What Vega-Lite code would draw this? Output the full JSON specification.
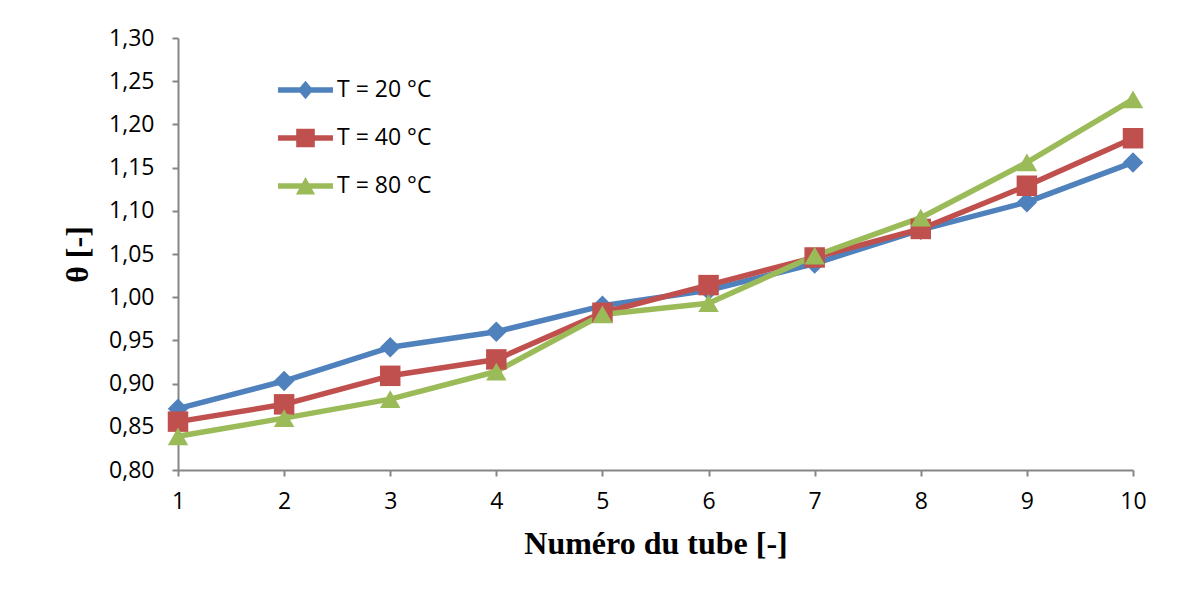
{
  "$schema": "https://vega.github.io/schema/vega-lite/v6.json",
  "width": 955,
  "height": 432,
  "autosize": "none",
  "padding": {"left": 178, "top": 38, "right": 47, "bottom": 141},
  "background": "white",
  "config": {"view": {"stroke": null}, "font": "Open Sans"},
  "data": {
    "values": [
      {"tube": 1, "serie": "T = 20 °C", "theta": 0.871},
      {"tube": 2, "serie": "T = 20 °C", "theta": 0.903},
      {"tube": 3, "serie": "T = 20 °C", "theta": 0.942},
      {"tube": 4, "serie": "T = 20 °C", "theta": 0.960},
      {"tube": 5, "serie": "T = 20 °C", "theta": 0.990},
      {"tube": 6, "serie": "T = 20 °C", "theta": 1.008},
      {"tube": 7, "serie": "T = 20 °C", "theta": 1.039},
      {"tube": 8, "serie": "T = 20 °C", "theta": 1.078},
      {"tube": 9, "serie": "T = 20 °C", "theta": 1.110},
      {"tube": 10, "serie": "T = 20 °C", "theta": 1.156},
      {"tube": 1, "serie": "T = 40 °C", "theta": 0.856},
      {"tube": 2, "serie": "T = 40 °C", "theta": 0.876},
      {"tube": 3, "serie": "T = 40 °C", "theta": 0.909},
      {"tube": 4, "serie": "T = 40 °C", "theta": 0.928},
      {"tube": 5, "serie": "T = 40 °C", "theta": 0.982},
      {"tube": 6, "serie": "T = 40 °C", "theta": 1.014},
      {"tube": 7, "serie": "T = 40 °C", "theta": 1.046},
      {"tube": 8, "serie": "T = 40 °C", "theta": 1.079},
      {"tube": 9, "serie": "T = 40 °C", "theta": 1.129},
      {"tube": 10, "serie": "T = 40 °C", "theta": 1.184},
      {"tube": 1, "serie": "T = 80 °C", "theta": 0.839},
      {"tube": 2, "serie": "T = 80 °C", "theta": 0.860},
      {"tube": 3, "serie": "T = 80 °C", "theta": 0.882},
      {"tube": 4, "serie": "T = 80 °C", "theta": 0.914},
      {"tube": 5, "serie": "T = 80 °C", "theta": 0.980},
      {"tube": 6, "serie": "T = 80 °C", "theta": 0.993},
      {"tube": 7, "serie": "T = 80 °C", "theta": 1.048},
      {"tube": 8, "serie": "T = 80 °C", "theta": 1.092},
      {"tube": 9, "serie": "T = 80 °C", "theta": 1.156},
      {"tube": 10, "serie": "T = 80 °C", "theta": 1.229}
    ]
  },
  "encoding": {
    "x": {
      "field": "tube",
      "type": "quantitative",
      "scale": {"domain": [1, 10], "nice": false, "zero": false},
      "axis": {
        "values": [1, 2, 3, 4, 5, 6, 7, 8, 9, 10],
        "format": "d",
        "title": "Numéro du tube [-]",
        "titleFont": "Liberation Serif",
        "titleFontSize": 32,
        "titleFontWeight": "bold",
        "titleColor": "#000000",
        "titlePadding": 15,
        "labelFont": "Open Sans",
        "labelFontSize": 23,
        "labelColor": "#000000",
        "labelPadding": 14,
        "labelFlush": false,
        "domainColor": "#868686",
        "domainWidth": 2,
        "tickColor": "#868686",
        "tickWidth": 2,
        "tickSize": 6,
        "grid": false
      }
    },
    "y": {
      "field": "theta",
      "type": "quantitative",
      "scale": {"domain": [0.8, 1.3], "nice": false, "zero": false},
      "axis": {
        "values": [0.8, 0.85, 0.9, 0.95, 1.0, 1.05, 1.1, 1.15, 1.2, 1.25, 1.3],
        "labelExpr": "replace(format(datum.value, '.2f'), '.', ',')",
        "title": "θ [-]",
        "titleFont": "Liberation Serif",
        "titleFontSize": 32,
        "titleFontWeight": "bold",
        "titleColor": "#000000",
        "titlePadding": 14,
        "labelFont": "Open Sans",
        "labelFontSize": 23,
        "labelColor": "#000000",
        "labelPadding": 18,
        "labelFlush": false,
        "domainColor": "#868686",
        "domainWidth": 2,
        "tickColor": "#868686",
        "tickWidth": 2,
        "tickSize": 6,
        "grid": false
      }
    },
    "color": {
      "field": "serie",
      "type": "nominal",
      "scale": {
        "domain": ["T = 20 °C", "T = 40 °C", "T = 80 °C"],
        "range": ["#4F81BD", "#C0504D", "#9BBB59"]
      },
      "legend": {
        "title": null,
        "orient": "none",
        "legendX": 112.5,
        "legendY": 37,
        "labelFont": "Open Sans",
        "labelFontSize": 23,
        "labelColor": "#000000",
        "labelOffset": 16.5,
        "symbolSize": 900,
        "symbolStrokeWidth": 0,
        "symbolOpacity": 1,
        "rowPadding": 21,
        "encode": {
          "symbols": {
            "update": {
              "shape": {"signal": "datum.value === 'T = 20 °C' ? 'M-1.83,-0.18H1.83V0.18H-1.83Z M0,-0.62L0.52,0L0,0.62L-0.52,0Z' : datum.value === 'T = 40 °C' ? 'M-1.83,-0.18H1.83V0.18H-1.83Z M-0.62,-0.62H0.62V0.62H-0.62Z' : 'M-1.83,-0.18H1.83V0.18H-1.83Z M0,-0.6L0.64,0.57H-0.64Z'"},
              "strokeWidth": {"value": 0},
              "opacity": {"value": 1}
            }
          }
        }
      }
    }
  },
  "layer": [
    {
      "mark": {"type": "line", "strokeWidth": 5.5, "strokeJoin": "round", "strokeCap": "round"}
    },
    {
      "mark": {"type": "point", "filled": true, "opacity": 1, "strokeWidth": 0, "size": 420},
      "encoding": {
        "shape": {
          "field": "serie",
          "type": "nominal",
          "scale": {
            "domain": ["T = 80 °C", "T = 40 °C", "T = 20 °C"],
            "range": ["triangle-up", "square", "diamond"]
          },
          "legend": null
        }
      }
    }
  ]
}
